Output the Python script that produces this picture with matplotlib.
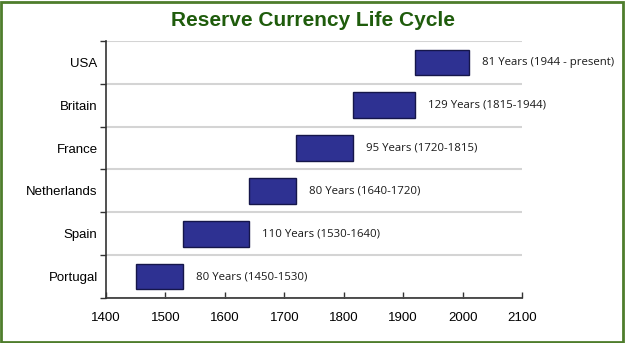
import matplotlib.pyplot as plt
from matplotlib.patches import Rectangle

# Data (bottom to top)
countries = ["Portugal", "Spain", "Netherlands", "France", "Britain", "USA"]
start_year = [1450, 1530, 1640, 1720, 1815, 1920]
end_year = [1530, 1640, 1720, 1815, 1920, 2010]
labels = ["80 Years (1450-1530)", "110 Years (1530-1640)", "80 Years (1640-1720)",
          "95 Years (1720-1815)", "129 Years (1815-1944)", "81 Years (1944 - present)"]
xticks = [1400, 1500, 1600, 1700, 1800, 1900, 2000, 2100]

plt.rcParams['font.family'] = ['Liberation Sans', 'DejaVu Sans']

fig = plt.figure(figsize=(6.26, 3.43), dpi=100)
ax = fig.add_axes([0.1693, 0.1312, 0.6646, 0.7493])

ypos = list(range(len(countries)))
widths = [e - s for s, e in zip(start_year, end_year)]
ax.barh(ypos, widths, left=start_year, height=0.6, color='#2e3192',
        edgecolor='#15164a', linewidth=1.0, zorder=3)

for y, e, lab in zip(ypos, end_year, labels):
    ax.text(e + 22, y, lab, va='center', ha='left', fontsize=8.2,
            family=['Open Sans', 'DejaVu Sans'], color='#1a1a1a', clip_on=False)

ax.set_xlim(1400, 2100)
ax.set_ylim(-0.5, len(countries) - 0.5)
ax.set_xticks(xticks)
ax.set_xticklabels([str(t) for t in xticks], fontsize=9.5)
ax.set_yticks(ypos)
ax.set_yticklabels(countries, fontsize=9.5)
ax.set_yticks([i - 0.5 for i in range(len(countries) + 1)], minor=True)

ax.tick_params(axis='y', which='major', length=0, pad=6)
ax.tick_params(axis='y', which='minor', length=4, width=1, color='#333333', direction='out')
ax.tick_params(axis='x', which='major', length=4, width=1, color='#333333', direction='in', pad=10)

ax.grid(True, axis='y', which='minor', color='#d4d4d4', linewidth=1.5, zorder=0)
ax.grid(False, axis='y', which='major')
for s in ['top', 'right']:
    ax.spines[s].set_visible(False)
for s in ['left', 'bottom']:
    ax.spines[s].set_color('#333333')
    ax.spines[s].set_linewidth(1.2)

fig.text(0.5, 0.94, "Reserve Currency Life Cycle", ha='center', va='center',
         fontsize=15, fontweight='bold', color='#1f5c0c')

fig.add_artist(Rectangle((0.002, 0.003), 0.994, 0.992, transform=fig.transFigure,
                         fill=False, edgecolor='#4e7d2c', linewidth=2))

plt.savefig('out.png', dpi=100)
